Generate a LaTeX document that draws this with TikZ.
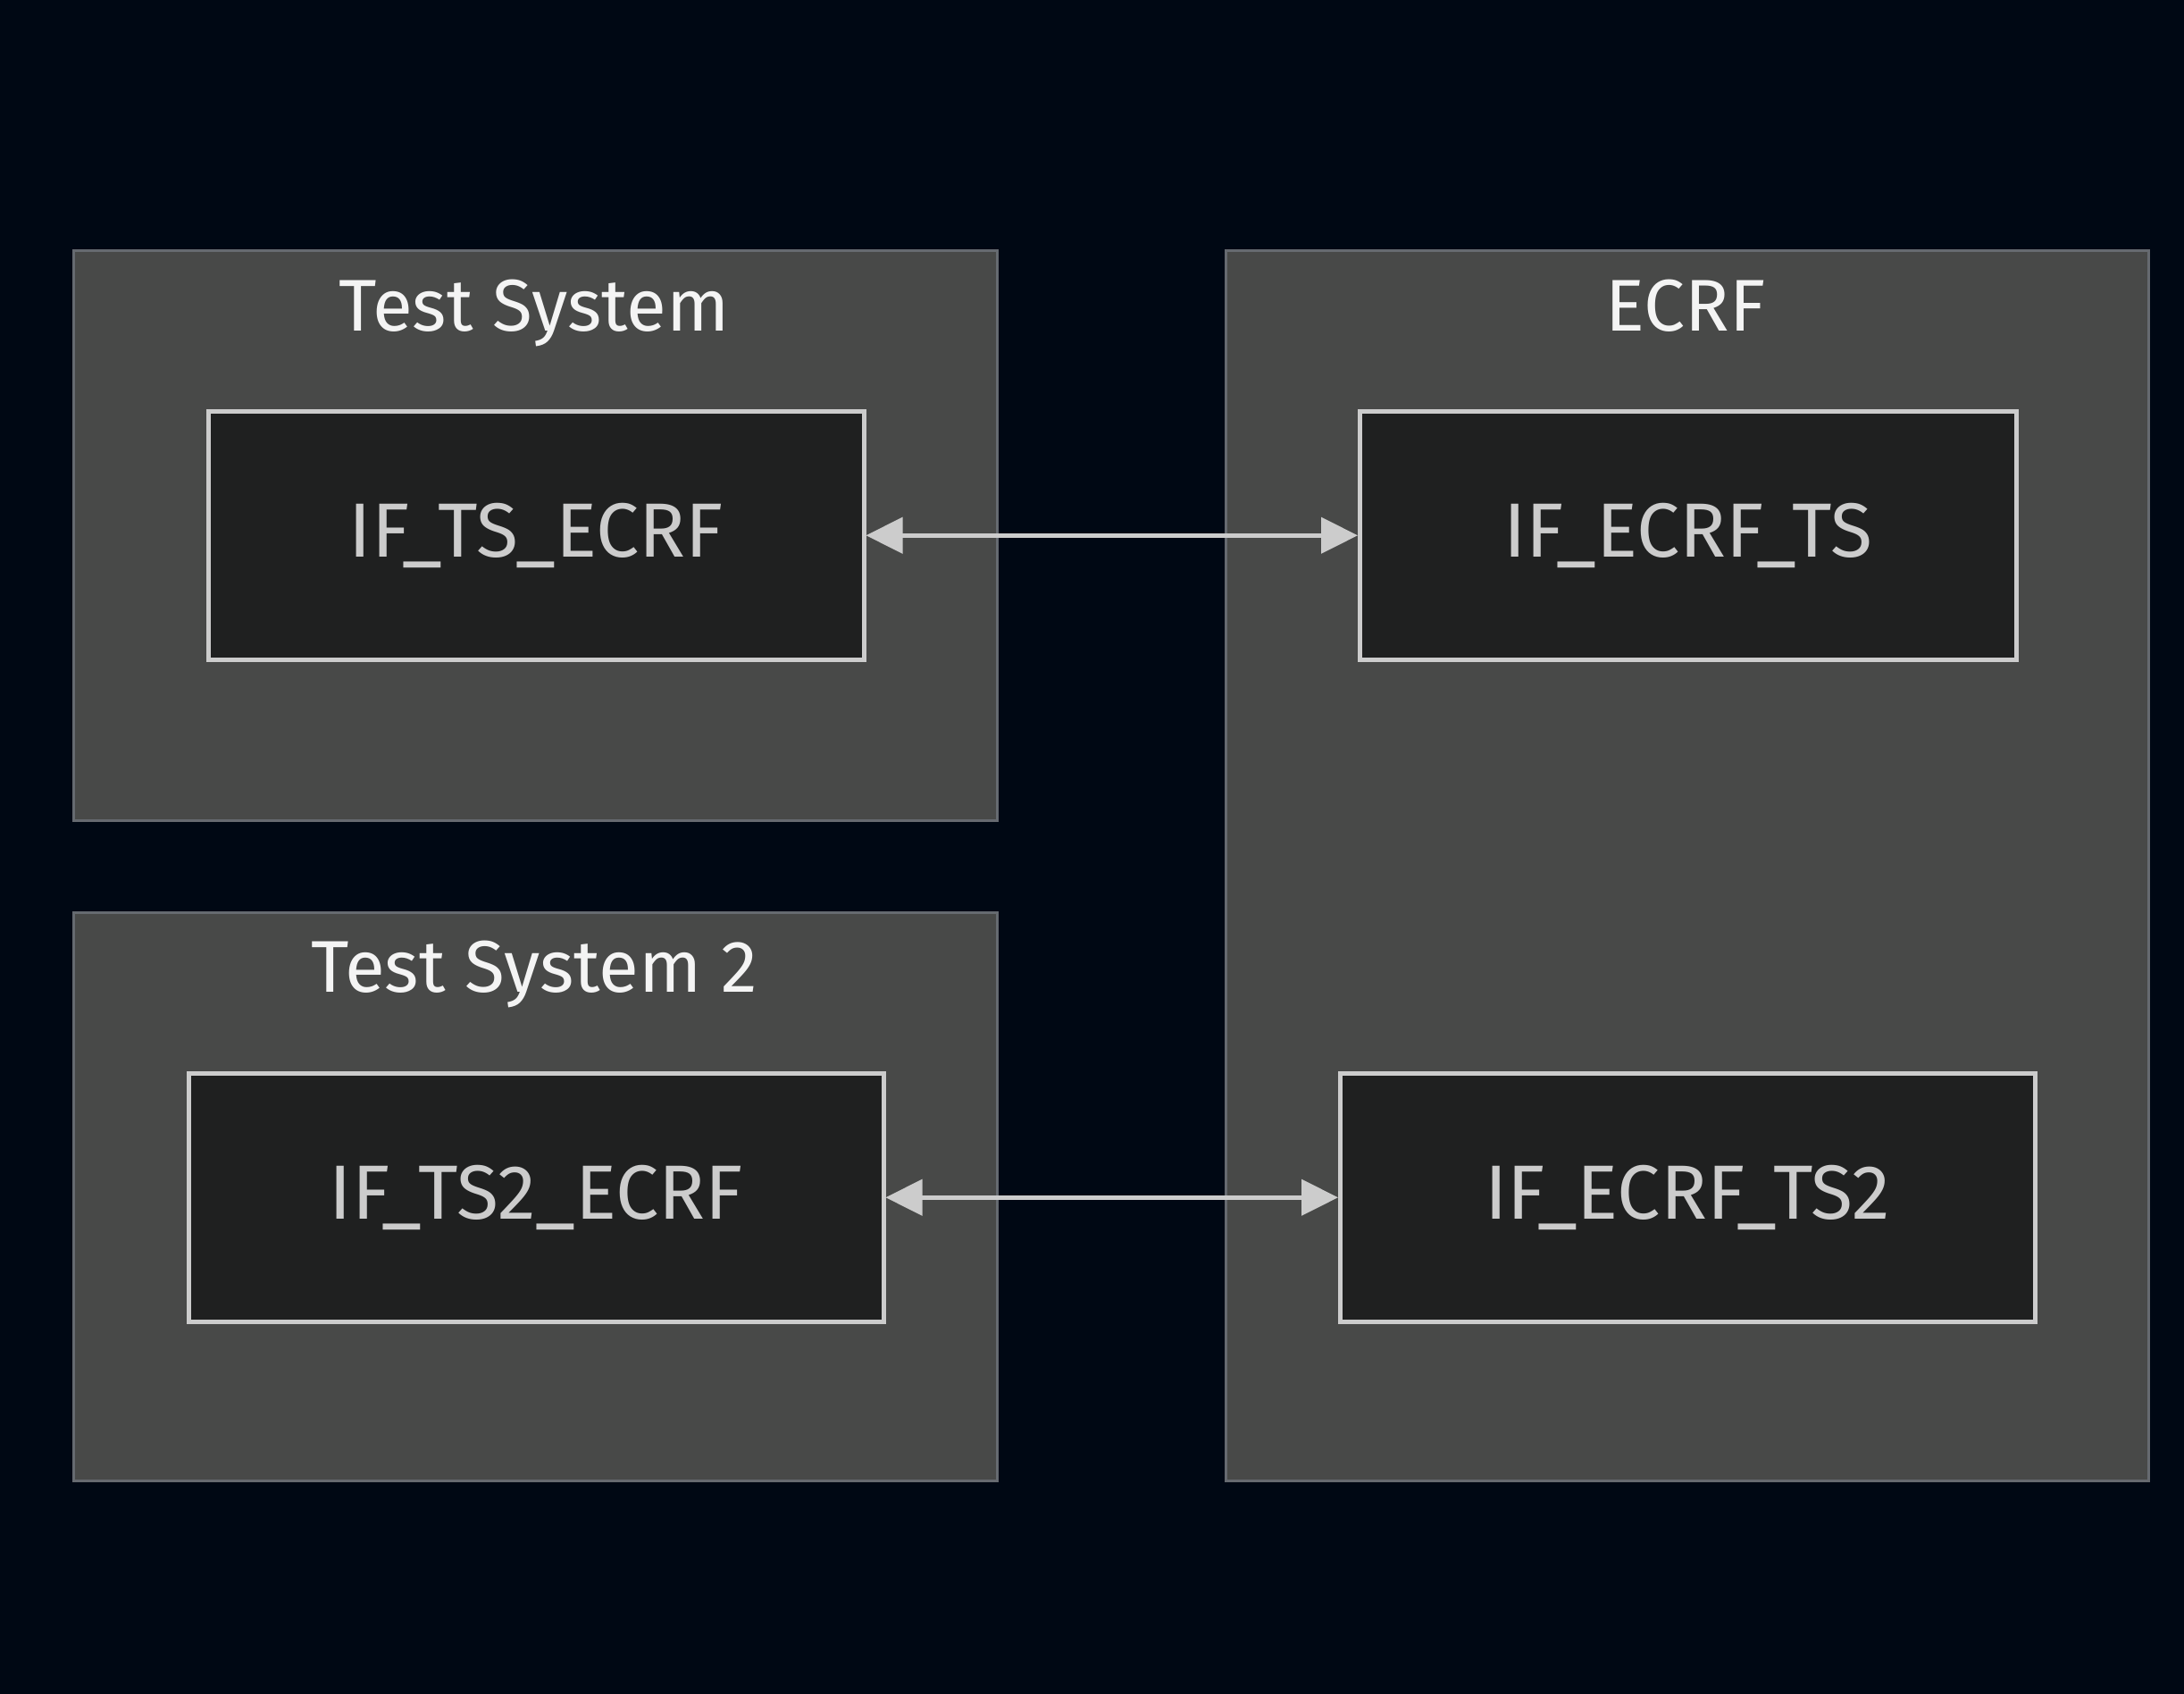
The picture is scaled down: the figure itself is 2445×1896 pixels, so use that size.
\documentclass[tikz,border=0pt]{standalone}
\usepackage{fontspec}
\setmainfont{Fira Sans}
\usetikzlibrary{arrows.meta}
\definecolor{bgc}{HTML}{000814}
\definecolor{clfill}{HTML}{484948}
\definecolor{clline}{HTML}{666A70}
\definecolor{ndfill}{HTML}{1F2020}
\definecolor{ndline}{HTML}{CCCCCC}
\definecolor{ndtext}{HTML}{CCCCCC}
\definecolor{titletext}{HTML}{F4F4F4}
\tikzset{
  cluster/.style={draw=clline, line width=3pt, fill=clfill, inner sep=0pt, anchor=north west},
  ifbox/.style={draw=ndline, line width=4.5pt, fill=ndfill, inner sep=0pt, anchor=north west,
    text=ndtext, font=\fontsize{86}{96}\selectfont},
  cltitle/.style={text=titletext, font=\fontsize{82}{96}\selectfont, inner sep=0pt, anchor=base},
  link/.style={draw=ndline, line width=4.5pt, {Triangle[length=41pt,width=40pt]}-{Triangle[length=41pt,width=40pt]}}
}
\begin{document}
\begin{tikzpicture}[x=1pt,y=-1pt]
\fill[bgc] (0,0) rectangle (2445,1896);
\useasboundingbox (0,0) rectangle (2445,1896);
% clusters
\node[cluster, minimum width=1034pt, minimum height=638pt] (ts) at (81,279) {};
\node[cluster, minimum width=1033pt, minimum height=1377pt] (ecrf) at (1371,279) {};
\node[cluster, minimum width=1034pt, minimum height=636pt] (ts2) at (81,1020) {};
\node[cltitle] (tstitle) at (598,370) {Test System};
\node[cltitle] (ecrftitle) at (1887,370) {ECRF};
\node[cltitle] (ts2title) at (598,1110) {Test System 2};
% interface nodes
\node[ifbox, minimum width=734pt, minimum height=278pt] (a) at (231,458) {IF\_TS\_ECRF};
\node[ifbox, minimum width=735pt, minimum height=278pt] (b) at (1520,458) {IF\_ECRF\_TS};
\node[ifbox, minimum width=778pt, minimum height=278pt] (c) at (209,1199) {IF\_TS2\_ECRF};
\node[ifbox, minimum width=778pt, minimum height=278pt] (d) at (1498,1199) {IF\_ECRF\_TS2};
% links
\draw[link] (a.east) -- (b.west);
\draw[link] (c.east) -- (d.west);
\end{tikzpicture}
\end{document}
